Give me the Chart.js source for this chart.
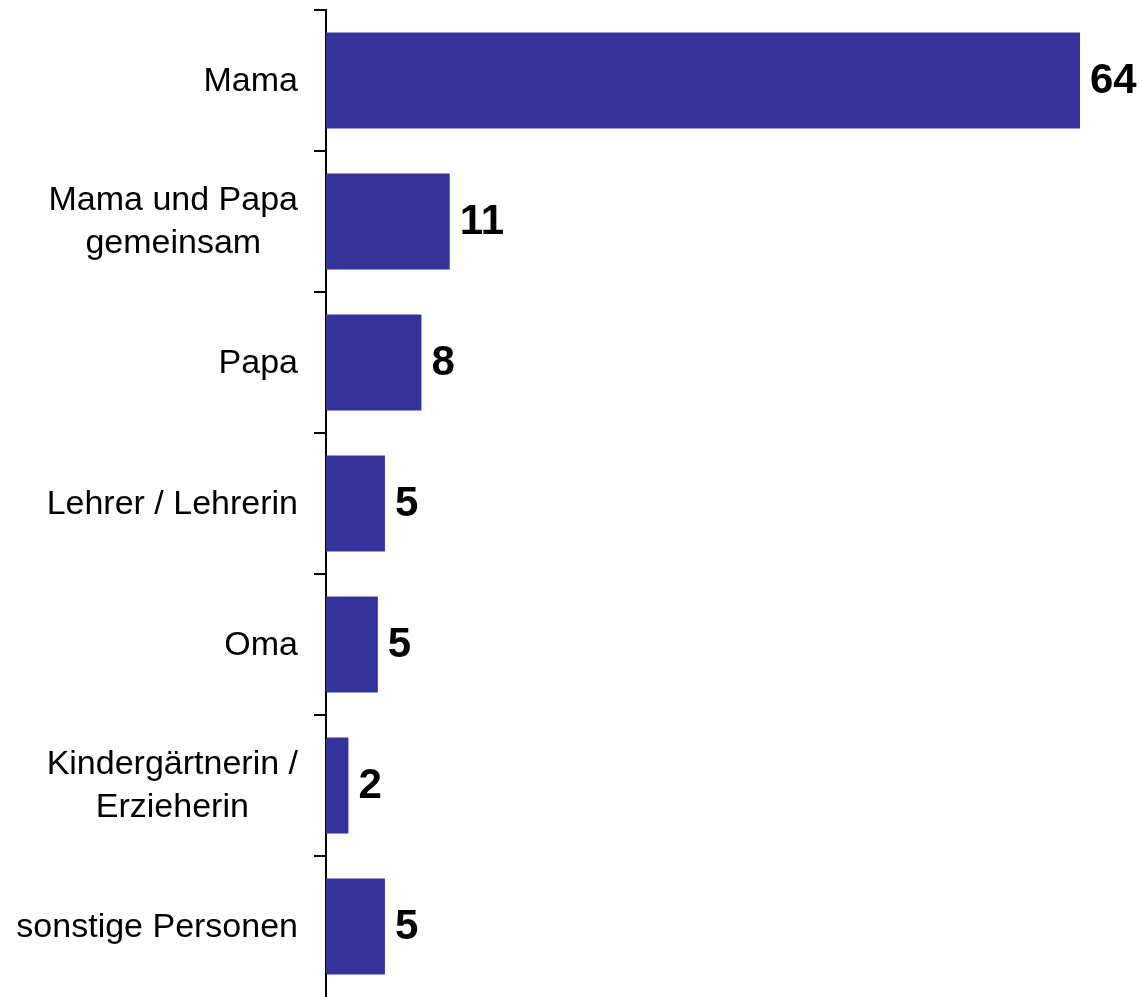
<!DOCTYPE html>
<html lang="de">
<head>
<meta charset="utf-8">
<title>Balkendiagramm</title>
<script src="https://cdn.jsdelivr.net/npm/chart.js@4/dist/chart.umd.min.js"></script>
<style>
    html, body { margin: 0; padding: 0; background: #fff; }
    #wrap { width: 1142px; height: 997px; position: relative; }
</style>
</head>
<body>
<div id="wrap"><canvas id="chart"></canvas></div>
<script>
// Kategorien (mehrzeilig wie im Original)
const categories = [
    ['Mama'],
    ['Mama und Papa', 'gemeinsam'],
    ['Papa'],
    ['Lehrer / Lehrerin'],
    ['Oma'],
    ['Kindergärtnerin /', 'Erzieherin'],
    ['sonstige Personen']
];

// Werte (aus Balkenlängen geschätzt) und die angezeigten, gerundeten Zahlen
const values = [64, 10.5, 8.1, 5.0, 4.4, 1.9, 5.0];
const valueLabels = ['64', '11', '8', '5', '5', '2', '5'];

const barColor = '#333399';
const fontFamily = '"Liberation Sans", Arial, Helvetica, sans-serif';

// Beschriftungen selbst zeichnen (mehrzeilig zentriert, rechtsbündig am Block)
const labelPlugin = {
    id: 'labelPlugin',
    afterDatasetsDraw(chart) {
        const ctx = chart.ctx;
        const yScale = chart.scales.y;
        const meta = chart.getDatasetMeta(0);
        ctx.save();
        ctx.fillStyle = '#000';
        ctx.textBaseline = 'middle';

        // Kategorien
        ctx.font = '34px ' + fontFamily;
        ctx.textAlign = 'center';
        categories.forEach((lines, i) => {
            const y = yScale.getPixelForValue(i);
            const w = Math.max(...lines.map(l => ctx.measureText(l).width));
            const cx = chart.chartArea.left - 28 - w / 2;
            lines.forEach((l, j) => {
                ctx.fillText(l, cx, y + 1 + (j - (lines.length - 1) / 2) * 43);
            });
        });

        // Werte
        ctx.font = 'bold 42px ' + fontFamily;
        ctx.textAlign = 'left';
        meta.data.forEach((bar, i) => {
            ctx.fillText(valueLabels[i], bar.x + 10, bar.y + 1);
        });
        ctx.restore();
    }
};

const ctx = document.getElementById('chart').getContext('2d');

new Chart(ctx, {
    type: 'bar',
    data: {
        labels: categories.map(c => c.join(' ')),
        datasets: [{
            data: values,
            backgroundColor: barColor,
            borderWidth: 0,
            barPercentage: 0.68,
            categoryPercentage: 1
        }]
    },
    options: {
        indexAxis: 'y',
        responsive: true,
        maintainAspectRatio: false,
        animation: false,
        layout: {
            padding: { top: 10, bottom: 0, left: 0, right: 62 }
        },
        plugins: {
            legend: { display: false },
            tooltip: { enabled: false }
        },
        scales: {
            x: {
                display: false,
                min: 0,
                max: 64
            },
            y: {
                afterFit: function(scale) {
                    scale.width = 326;
                },
                ticks: { display: false },
                grid: {
                    offset: true,
                    drawOnChartArea: false,
                    drawTicks: true,
                    tickLength: 12,
                    // letzter Strich (unten am Rand) bekommt den Scale-Kontext -> ausblenden
                    color: c => c.type === 'tick' ? '#000' : 'rgba(0,0,0,0)',
                    lineWidth: 2
                },
                border: {
                    display: true,
                    color: '#000',
                    width: 2
                }
            }
        }
    },
    plugins: [labelPlugin]
});
</script>
</body>
</html>
